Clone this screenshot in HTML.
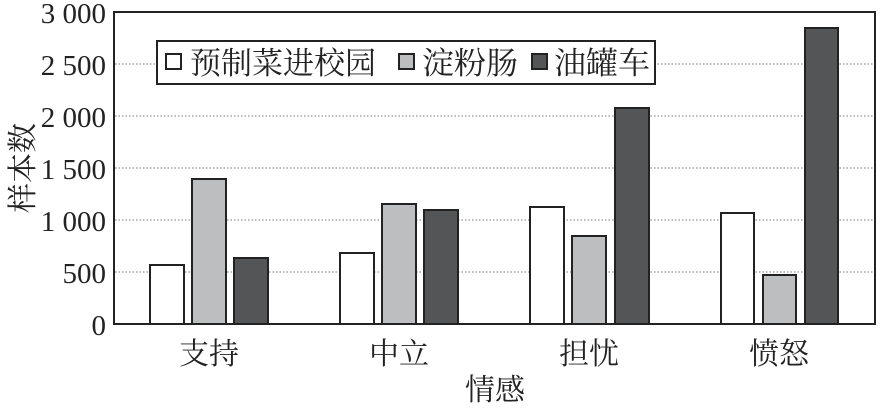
<!DOCTYPE html>
<html><head><meta charset="utf-8"><style>
body{margin:0;background:#fff}
svg text{font-family:"Liberation Serif","Noto Serif CJK SC",serif;fill:#222}
</style></head><body>
<svg width="880" height="409" xmlns="http://www.w3.org/2000/svg">
<g stroke="#777" stroke-width="1" stroke-dasharray="1.5,2">
<line x1="115" y1="64" x2="875" y2="64"/><line x1="115" y1="116" x2="875" y2="116"/>
<line x1="115" y1="168" x2="875" y2="168"/><line x1="115" y1="220" x2="875" y2="220"/>
<line x1="115" y1="272" x2="875" y2="272"/>
</g>
<g stroke="#222" stroke-width="2">
<rect x="150" y="265" width="34" height="59" fill="#fff"/>
<rect x="192" y="179" width="34" height="145" fill="#bdbebf"/>
<rect x="234" y="258" width="34" height="66" fill="#545557"/>
<rect x="340" y="253" width="34" height="71" fill="#fff"/>
<rect x="382" y="204" width="34" height="120" fill="#bdbebf"/>
<rect x="424" y="210" width="34" height="114" fill="#545557"/>
<rect x="530" y="207" width="34" height="117" fill="#fff"/>
<rect x="572" y="236" width="34" height="88" fill="#bdbebf"/>
<rect x="615" y="108" width="34" height="216" fill="#545557"/>
<rect x="721" y="213" width="33" height="111" fill="#fff"/>
<rect x="763" y="275" width="33" height="49" fill="#bdbebf"/>
<rect x="805" y="28" width="33" height="296" fill="#545557"/>
<rect x="114" y="12" width="761" height="312" fill="none"/>
<rect x="157" y="41" width="498" height="43" fill="#fff"/>
<rect x="166" y="54" width="15" height="15" fill="#fff"/>
<rect x="399" y="54" width="15" height="15" fill="#bdbebf"/>
<rect x="532" y="54" width="15" height="15" fill="#545557"/>
</g>
<g font-size="31">
<text x="190" y="74" textLength="186" lengthAdjust="spacingAndGlyphs">预制菜进校园</text>
<text x="422" y="74" textLength="96" lengthAdjust="spacingAndGlyphs">淀粉肠</text>
<text x="554" y="74" textLength="96" lengthAdjust="spacingAndGlyphs">油罐车</text>
</g>
<g font-size="29" text-anchor="end">
<text x="106" y="23">3 000</text><text x="106" y="75">2 500</text><text x="106" y="127">2 000</text>
<text x="106" y="179">1 500</text><text x="106" y="231">1 000</text><text x="106" y="283">500</text>
<text x="106" y="335">0</text>
</g>
<g font-size="30" text-anchor="middle">
<text x="209" y="364">支持</text><text x="399" y="364">中立</text>
<text x="589" y="364">担忧</text><text x="779" y="364">愤怒</text>
<text x="495" y="400">情感</text>
<text transform="translate(33,168) rotate(-90)" y="0">样本数</text>
</g>
</svg>
</body></html>
